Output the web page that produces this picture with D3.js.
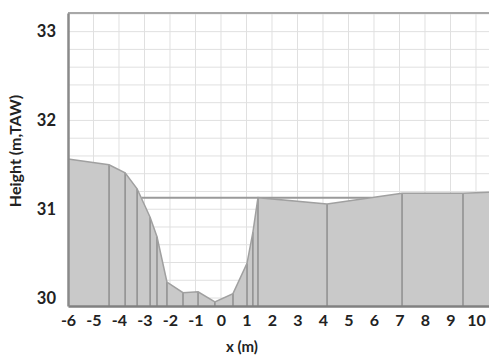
<!DOCTYPE html>
<html>
<head>
<meta charset="utf-8">
<script src="https://cdn.jsdelivr.net/npm/d3@7"></script>
<style>
  html, body { margin: 0; padding: 0; background: #fff; }
  svg { display: block; }
  text { font-family: Lato, "Open Sans", sans-serif; font-weight: bold; fill: #222; }
</style>
</head>
<body>
<script>
// ---- data ----
const profileX = [-6, -4.39, -3.76, -3.29, -2.78, -2.51, -2.12, -1.49, -0.9, -0.24, 0.47, 1.02, 1.25, 1.45, 4.16, 7.1, 9.49, 10.51];
const profileY = [31.565, 31.50, 31.41, 31.23, 30.91, 30.69, 30.18, 30.06, 30.07, 29.955, 30.05, 30.39, 30.74, 31.13, 31.06, 31.18, 31.18, 31.19];
const waterLevel = 31.13;
const waterX = [-3.12, 5.9];
const xTicks = [-6, -5, -4, -3, -2, -1, 0, 1, 2, 3, 4, 5, 6, 7, 8, 9, 10];
const yTicks = [30, 31, 32, 33];
const xLabel = "x (m)";
const yLabel = "Height (m,TAW)";

const W = 489, H = 356;
const margin = { left: 68, right: 0, top: 13, bottom: 50 };

const svg = d3.select("body").append("svg").attr("width", W).attr("height", H);

const x = d3.scaleLinear().domain([-6, 10.51]).range([margin.left, W - margin.right]);
const y = d3.scaleLinear().domain([29.91, 33.21]).range([H - margin.bottom, margin.top]);

// grid
const yGrid = d3.range(30, 33.21, 0.2);
svg.append("g").selectAll("line").data(yGrid).join("line")
  .attr("x1", x(-6)).attr("x2", x(10.51))
  .attr("y1", d => y(d)).attr("y2", d => y(d))
  .attr("stroke", "#e0e0e0").attr("stroke-width", 1);
svg.append("g").selectAll("line").data(xTicks.slice(1)).join("line")
  .attr("x1", d => x(d)).attr("x2", d => x(d))
  .attr("y1", y(33.21)).attr("y2", y(29.91))
  .attr("stroke", "#e0e0e0").attr("stroke-width", 1);

const pts = profileX.map((v, i) => [v, profileY[i]]);

// water line
svg.append("line")
  .attr("x1", x(waterX[0])).attr("x2", x(waterX[1]))
  .attr("y1", y(waterLevel)).attr("y2", y(waterLevel))
  .attr("stroke", "#9a9a9a").attr("stroke-width", 2);

// ground area
const area = d3.area().x(d => x(d[0])).y0(y(29.91)).y1(d => y(d[1]));
svg.append("path").datum(pts).attr("d", area).attr("fill", "#c9c9c9");

// drop lines
svg.append("g").selectAll("line").data(pts.slice(1, -1)).join("line")
  .attr("x1", d => x(d[0])).attr("x2", d => x(d[0]))
  .attr("y1", d => y(d[1])).attr("y2", y(29.91))
  .attr("stroke", "#8e8e8e").attr("stroke-width", 1.5);

// outline
const line = d3.line().x(d => x(d[0])).y(d => y(d[1]));
svg.append("path").datum(pts).attr("d", line)
  .attr("fill", "none").attr("stroke", "#a0a0a0").attr("stroke-width", 1.5);

// top frame
svg.append("line")
  .attr("x1", x(-6)).attr("x2", W).attr("y1", y(33.21)).attr("y2", y(33.21))
  .attr("stroke", "#a8a8a8").attr("stroke-width", 2);

// axes
const fmt = d => String(d);
const xAxis = d3.axisBottom(x).tickValues(xTicks).tickSize(0).tickPadding(9).tickFormat(fmt);
const gx = svg.append("g").attr("transform", `translate(0,${y(29.91)})`).call(xAxis);
gx.select(".domain").attr("stroke", "#808080").attr("stroke-width", 2.5);
gx.selectAll("text").attr("font-size", 16).style("font-family", "Lato, sans-serif").style("font-weight", "bold").attr("fill", "#222");

const yAxis = d3.axisLeft(y).tickValues(yTicks).tickSize(0).tickPadding(12).tickFormat(fmt);
const gy = svg.append("g").attr("transform", `translate(${x(-6)},0)`).call(yAxis);
gy.select(".domain").attr("stroke", "#8a8a8a").attr("stroke-width", 2.5);
gy.selectAll("text").attr("font-size", 16.5).style("font-family", "Lato, sans-serif").style("font-weight", "bold").attr("fill", "#222");

// axis titles
svg.append("text").attr("x", 242).attr("y", 352).attr("text-anchor", "middle")
  .attr("font-size", 15).text(xLabel);
svg.append("text").attr("transform", "translate(21,151) rotate(-90)").attr("text-anchor", "middle")
  .attr("font-size", 16).text(yLabel);
</script>
</body>
</html>
